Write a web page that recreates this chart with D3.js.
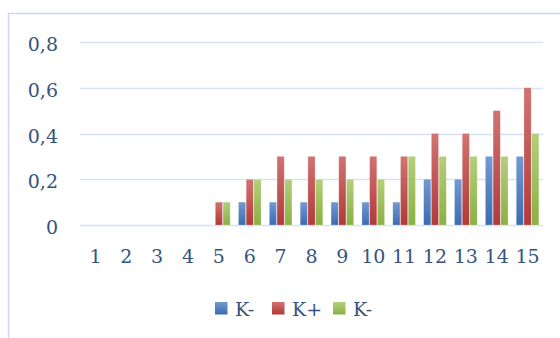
<!DOCTYPE html>
<html><head><meta charset="utf-8">
<script src="https://cdn.jsdelivr.net/npm/d3@7"></script>
<style>html,body{margin:0;padding:0;background:#fff;}svg{display:block;}</style>
</head><body>
<script>
const categories = ["1","2","3","4","5","6","7","8","9","10","11","12","13","14","15"];
const seriesNames = ["K-","K+","K-"];
const kMinus1 = [0,0,0,0,0,0.1,0.1,0.1,0.1,0.1,0.1,0.2,0.2,0.3,0.3];
const kPlus   = [0,0,0,0,0.1,0.2,0.3,0.3,0.3,0.3,0.3,0.4,0.4,0.5,0.6];
const kMinus2 = [0,0,0,0,0.1,0.2,0.2,0.2,0.2,0.2,0.3,0.3,0.3,0.3,0.4];
const yTicks = [0,0.2,0.4,0.6,0.8];
const yTickLabels = ["0","0,2","0,4","0,6","0,8"];

const W=560,H=338;
const svg=d3.select("body").append("svg").attr("width",W).attr("height",H);
const font="'DejaVu Serif', 'Liberation Serif', serif";
const fs=19;
const textColor="#34537f";

const defs=svg.append("defs");
const grads=[["gB","#7299d2","#3b6cb0"],["gR","#d07471","#b2393a"],["gG","#b3cf7b","#8bb043"]];
grads.forEach(([id,c1,c2])=>{
  const g=defs.append("linearGradient").attr("id",id).attr("x1",0).attr("y1",0).attr("x2",0).attr("y2",1);
  g.append("stop").attr("offset","0%").attr("stop-color",c1);
  g.append("stop").attr("offset","100%").attr("stop-color",c2);
});

// chart border
svg.append("rect").attr("x",8.5).attr("y",13.5).attr("width",W+10).attr("height",H+10)
  .attr("fill","none").attr("stroke","#c9daf0").attr("stroke-width",1.5);

const x=d3.scaleBand().domain(categories).range([80,543]).padding(0);
const y=d3.scaleLinear().domain([0,0.8]).range([225,42]);

// gridlines
svg.append("g").selectAll("line").data(yTicks).join("line")
  .attr("x1",80).attr("x2",543).attr("y1",d=>Math.round(y(d))+0.5).attr("y2",d=>Math.round(y(d))+0.5)
  .attr("stroke","#d5e2f5").attr("stroke-width",1.3);

// y axis
const yAxis=svg.append("g").attr("transform","translate(58,0)")
  .call(d3.axisLeft(y).tickValues(yTicks).tickFormat((d,i)=>yTickLabels[i]).tickSize(0).tickPadding(0));
yAxis.select(".domain").remove();
yAxis.selectAll("text").attr("font-family",font).attr("font-size",fs).attr("fill",textColor).attr("dy","0.45em");

// x axis
const xAxis=svg.append("g").attr("transform","translate(0,225)")
  .call(d3.axisBottom(x).tickSize(0).tickPadding(0));
xAxis.select(".domain").remove();
xAxis.selectAll("text").attr("font-family",font).attr("font-size",fs).attr("fill",textColor).attr("dy",null).attr("y",38);

// bars
const series=[kMinus1,kPlus,kMinus2];
const bw=x.bandwidth();
const barW=bw*0.232, step=bw*0.25;
series.forEach((vals,si)=>{
  const data=vals.map((v,i)=>({c:categories[i],v})).filter(d=>d.v>0);
  svg.append("g").selectAll("rect").data(data).join("rect")
    .attr("x",d=>x(d.c)+bw/2+(si-1)*step-barW/2)
    .attr("width",barW)
    .attr("y",d=>y(d.v))
    .attr("height",d=>y(0)-y(d.v))
    .attr("fill",`url(#${grads[si][0]})`)
    .attr("stroke","rgba(255,255,255,0.35)").attr("stroke-width",0.6);
});

// legend
const legend=[{n:seriesNames[0],g:"gB",x:215},{n:seriesNames[1],g:"gR",x:272},{n:seriesNames[2],g:"gG",x:333}];
const lg=svg.append("g");
legend.forEach(l=>{
  lg.append("rect").attr("x",l.x).attr("y",302).attr("width",12.5).attr("height",12.5).attr("fill",`url(#${l.g})`);
  lg.append("text").attr("x",l.x+20).attr("y",315.5).attr("font-family",font).attr("font-size",fs).attr("fill",textColor).text(l.n);
});
</script>
</body></html>
